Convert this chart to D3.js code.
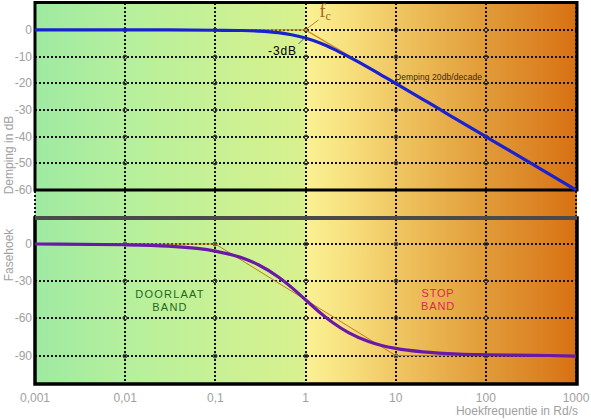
<!DOCTYPE html>
<html>
<head>
<meta charset="utf-8">
<script src="https://cdn.jsdelivr.net/npm/d3@7"></script>
<style>
  body { margin: 0; background: #fff; }
  svg { display: block; font-family: "Liberation Sans", Arial, sans-serif; }
</style>
</head>
<body>
<script>
// frequencies (rad/s)
const freq = [0.001, 0.01, 0.03, 0.1, 0.2, 0.3, 0.5, 0.7, 1, 1.5, 2, 3, 5, 7, 10, 20, 30, 50, 100, 200, 500, 1000];
// magnitude in dB (blue curve)
const magDb = [0, 0, 0, -0.1, -0.2, -0.4, -1, -1.8, -3, -5.1, -7, -10, -14.1, -17, -20, -26, -29.5, -34, -40, -46, -54, -60];
// phase in degrees (purple curve)
const phaseDeg = [0, -0.6, -1.7, -5.7, -11.3, -16.7, -26.6, -35, -45, -56.3, -63.4, -71.6, -78.7, -81.9, -84.3, -87.1, -88.1, -88.9, -89.4, -89.7, -90, -90.5];
// straight-line asymptotes (thin orange)
const magAsymF = [0.001, 1, 1000];
const magAsymDb = [0, 0, -60];
const phAsymF = [0.001, 0.1, 10, 1000];
const phAsymDeg = [0, 0, -90, -90];
// ticks
const xTicks = [0.001, 0.01, 0.1, 1, 10, 100, 1000];
const xTickLabels = ["0,001", "0,01", "0,1", "1", "10", "100", "1000"];
const magTicks = [0, -10, -20, -30, -40, -50, -60];
const phTicks = [0, -30, -60, -90];

const width = 591;
const height = 420;
const svg = d3.select("body").append("svg");
svg.attr("width", width);
svg.attr("height", height);

const x = d3.scaleLog().domain([0.001, 1000]).range([35, 576]);
const yMag = d3.scaleLinear().domain([-60, 10.3]).range([190, 2.5]);
const yPh = d3.scaleLinear().domain([-113, 21]).range([384, 218]);
const px = (v) => Math.round(v); // snap grid lines to whole pixels

const top0 = 2.5, bot1 = 384;
const left = x(0.001), right = x(1000) + 1;

// background gradients: pass band (green) and stop band (yellow -> orange)
const defs = svg.append("defs");
const gPass = defs.append("linearGradient").attr("id", "gpass");
[[0, "#9eeaa2"], [0.35, "#b6f09c"], [0.7, "#c9f194"], [1, "#d9f18e"]].forEach(([o, c]) =>
  gPass.append("stop").attr("offset", o).attr("stop-color", c));
const gStop = defs.append("linearGradient").attr("id", "gstop");
[[0, "#faf294"], [0.17, "#f7de7c"], [0.34, "#efc662"], [0.5, "#e8b04c"], [0.67, "#e19a38"], [0.84, "#dc8626"], [1, "#d87012"]].forEach(([o, c]) =>
  gStop.append("stop").attr("offset", o).attr("stop-color", c));

svg.append("rect")
  .attr("x", left).attr("y", top0)
  .attr("width", x(1) - left).attr("height", bot1 - top0)
  .attr("fill", "url(#gpass)");
svg.append("rect")
  .attr("x", x(1)).attr("y", top0)
  .attr("width", right - x(1)).attr("height", bot1 - top0)
  .attr("fill", "url(#gstop)");

// dotted grid
const grid = svg.append("g")
  .attr("stroke", "#111")
  .attr("stroke-width", 2)
  .attr("stroke-dasharray", "2,2")
  .attr("shape-rendering", "crispEdges");
grid.selectAll("line.v")
  .data(xTicks)
  .join("line")
  .attr("class", "v")
  .attr("x1", (d) => px(x(d))).attr("x2", (d) => px(x(d)))
  .attr("y1", top0).attr("y2", bot1);
grid.selectAll("line.hm")
  .data(magTicks.slice(0, -1))
  .join("line")
  .attr("class", "hm")
  .attr("x1", left).attr("x2", right)
  .attr("y1", (d) => px(yMag(d))).attr("y2", (d) => px(yMag(d)));
grid.selectAll("line.hp")
  .data(phTicks)
  .join("line")
  .attr("class", "hp")
  .attr("x1", left).attr("x2", right)
  .attr("y1", (d) => px(yPh(d))).attr("y2", (d) => px(yPh(d)));

// little rings at the grid crossings
const inner = xTicks.slice(1, -1);
const rings = svg.append("g").attr("fill", "none").attr("stroke", "#3a3a3a").attr("stroke-width", 1);
inner.forEach((f) => {
  magTicks.slice(0, -1).forEach((v) =>
    rings.append("circle").attr("cx", px(x(f))).attr("cy", px(yMag(v))).attr("r", 2));
  phTicks.forEach((v) =>
    rings.append("circle").attr("cx", px(x(f))).attr("cy", px(yPh(v))).attr("r", 2));
});

// panel frames
svg.append("rect")
  .attr("x", left).attr("y", top0)
  .attr("width", right - left).attr("height", yMag(-60) - top0)
  .attr("fill", "none").attr("stroke", "#000").attr("stroke-width", 3);
svg.append("rect")
  .attr("x", left).attr("y", yPh(21))
  .attr("width", right - left).attr("height", bot1 - yPh(21))
  .attr("fill", "none").attr("stroke", "#000").attr("stroke-width", 3.5);
svg.append("line")
  .attr("x1", left).attr("x2", right)
  .attr("y1", yPh(21)).attr("y2", yPh(21))
  .attr("stroke", "#4a4a4a").attr("stroke-width", 4);

// curves
const magLine = d3.line().x((d) => x(d[0])).y((d) => yMag(d[1])).curve(d3.curveMonotoneX);
const phLine = d3.line().x((d) => x(d[0])).y((d) => yPh(d[1])).curve(d3.curveMonotoneX);
const straightMag = d3.line().x((d) => x(d[0])).y((d) => yMag(d[1]));
const straightPh = d3.line().x((d) => x(d[0])).y((d) => yPh(d[1]));

svg.append("path")
  .attr("d", straightMag(d3.zip(magAsymF, magAsymDb)))
  .attr("fill", "none").attr("stroke", "#d08a20").attr("stroke-width", 1.2);
svg.append("path")
  .attr("d", magLine(d3.zip(freq, magDb)))
  .attr("fill", "none").attr("stroke", "#1a22d0").attr("stroke-width", 3.2);

svg.append("path")
  .attr("d", straightPh(d3.zip(phAsymF, phAsymDeg)))
  .attr("fill", "none").attr("stroke", "#c47a18").attr("stroke-width", 1);
svg.append("path")
  .attr("d", phLine(d3.zip(freq, phaseDeg)))
  .attr("fill", "none").attr("stroke", "#6a18a8").attr("stroke-width", 3.2);

// annotations
const fcX = x(1), fcY = yMag(0);
svg.append("line")
  .attr("x1", fcX + 1).attr("y1", fcY - 1)
  .attr("x2", fcX + 13).attr("y2", fcY - 10)
  .attr("stroke", "#a06a2a").attr("stroke-width", 0.8);
const fc = svg.append("text")
  .attr("x", fcX + 14).attr("y", 17)
  .attr("font-family", "'Liberation Serif', serif")
  .attr("font-size", 18)
  .attr("fill", "#a0642a");
fc.append("tspan").text("f");
fc.append("tspan").attr("font-size", 12).attr("dy", 3).text("c");

svg.append("line")
  .attr("x1", fcX - 7).attr("y1", fcY + 14)
  .attr("x2", fcX).attr("y2", fcY + 7)
  .attr("stroke", "#404040").attr("stroke-width", 0.8);
svg.append("text")
  .attr("x", 268).attr("y", 55)
  .attr("font-size", 12)
  .attr("letter-spacing", 0.9)
  .attr("fill", "#000")
  .text("-3dB");

svg.append("text")
  .attr("x", 395).attr("y", 80)
  .attr("font-size", 8.5)
  .attr("textLength", 87)
  .attr("lengthAdjust", "spacing")
  .attr("fill", "#3a2a10")
  .text("Demping 20db/decade");

const pass = svg.append("text")
  .attr("text-anchor", "middle")
  .attr("font-size", 11)
  .attr("letter-spacing", 1.2)
  .attr("fill", "#1e6a1e");
pass.append("tspan").attr("x", 170).attr("y", 298).text("DOORLAAT");
pass.append("tspan").attr("x", 170).attr("y", 311).text("BAND");

const stop = svg.append("text")
  .attr("text-anchor", "middle")
  .attr("font-size", 11)
  .attr("letter-spacing", 0.8)
  .attr("fill", "#e0245a");
stop.append("tspan").attr("x", 438).attr("y", 297).text("STOP");
stop.append("tspan").attr("x", 438).attr("y", 310).text("BAND");

// tick labels
const tickColor = "#a0a0a0";
svg.selectAll("text.ym")
  .data(magTicks)
  .join("text")
  .attr("class", "ym")
  .attr("x", 32).attr("y", (d) => yMag(d) + 4)
  .attr("text-anchor", "end")
  .attr("font-size", 12)
  .attr("fill", tickColor)
  .text((d) => d);
svg.selectAll("text.yp")
  .data(phTicks)
  .join("text")
  .attr("class", "yp")
  .attr("x", 32).attr("y", (d) => yPh(d) + 4)
  .attr("text-anchor", "end")
  .attr("font-size", 12)
  .attr("fill", tickColor)
  .text((d) => d);
svg.selectAll("text.xt")
  .data(xTicks)
  .join("text")
  .attr("class", "xt")
  .attr("x", (d) => x(d)).attr("y", 402)
  .attr("text-anchor", "middle")
  .attr("font-size", 12)
  .attr("fill", tickColor)
  .text((d, i) => xTickLabels[i]);

// axis titles
svg.append("text")
  .attr("transform", "translate(13,155) rotate(-90)")
  .attr("text-anchor", "middle")
  .attr("font-size", 12)
  .attr("fill", tickColor)
  .text("Demping in dB");
svg.append("text")
  .attr("transform", "translate(13,255) rotate(-90)")
  .attr("text-anchor", "middle")
  .attr("font-size", 12)
  .attr("fill", tickColor)
  .text("Fasehoek");
svg.append("text")
  .attr("x", 578).attr("y", 415)
  .attr("text-anchor", "end")
  .attr("font-size", 12)
  .attr("fill", tickColor)
  .text("Hoekfrequentie in Rd/s");
</script>
</body>
</html>
